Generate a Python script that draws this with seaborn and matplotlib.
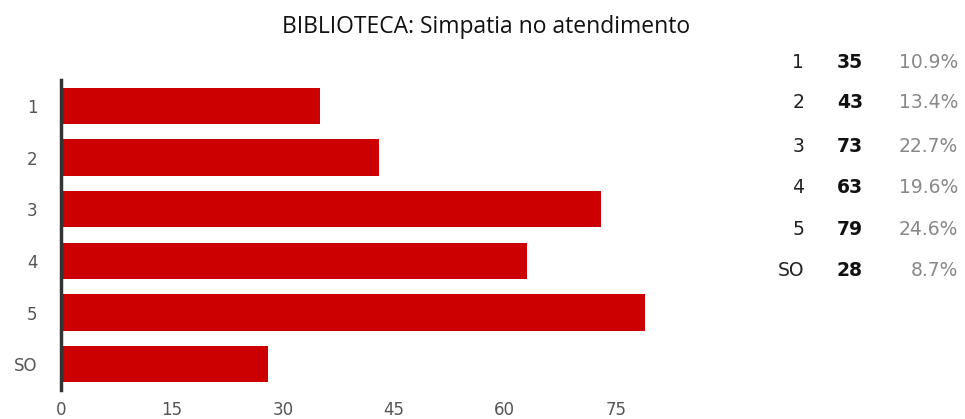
import matplotlib.pyplot as plt
import pandas as pd
import seaborn as sns

categories = ["1", "2", "3", "4", "5", "SO"]
counts = [35, 43, 73, 63, 79, 28]
percents = [10.9, 13.4, 22.7, 19.6, 24.6, 8.7]
x_ticks = [0, 15, 30, 45, 60, 75]

W, H = 965, 419

sns.set_style("white")
plt.rcParams["font.family"] = ["DejaVu Sans"]

df = pd.DataFrame({"resposta": categories, "total": counts})

fig = plt.figure(figsize=(W / 100, H / 100), dpi=100)
ax = fig.add_axes([61 / W, 1 - 390 / H, (649 - 61) / W, (390 - 80) / H])

sns.barplot(data=df, x="total", y="resposta", orient="h", color="#cc0000",
            saturation=1, width=0.7, ax=ax, edgecolor="none")

ax.set_xlim(0, 79.5)
ax.set_ylim(5.5, -0.5)
ax.set_xticks(x_ticks)
ax.set_xlabel("")
ax.set_ylabel("")
ax.tick_params(axis="both", length=0, labelsize=12, labelcolor="#555555")
ax.tick_params(axis="x", pad=8)
ax.tick_params(axis="y", pad=17)
for side in ["top", "right", "bottom"]:
    ax.spines[side].set_visible(False)
ax.spines["left"].set_color("#333333")
ax.spines["left"].set_linewidth(2.5)

fig.text(486 / W, 1 - 27 / H, "BIBLIOTECA: Simpatia no atendimento",
         ha="center", va="center", fontsize=16.5,
         family=["Open Sans", "DejaVu Sans"], color="#111111")

# summary table on the right
row_y = [62, 102, 146, 187, 229, 270]
for cat, n, p, y in zip(categories, counts, percents, row_y):
    yy = 1 - y / H
    fig.text(804 / W, yy, cat, ha="right", va="center", fontsize=13.5,
             color="#222222")
    fig.text(863 / W, yy, str(n), ha="right", va="center", fontsize=13.5,
             color="#111111", weight="bold")
    fig.text(958 / W, yy, f"{p:.1f}%", ha="right", va="center", fontsize=13.5,
             color="#888888")

fig.savefig("out.png", dpi=100)
